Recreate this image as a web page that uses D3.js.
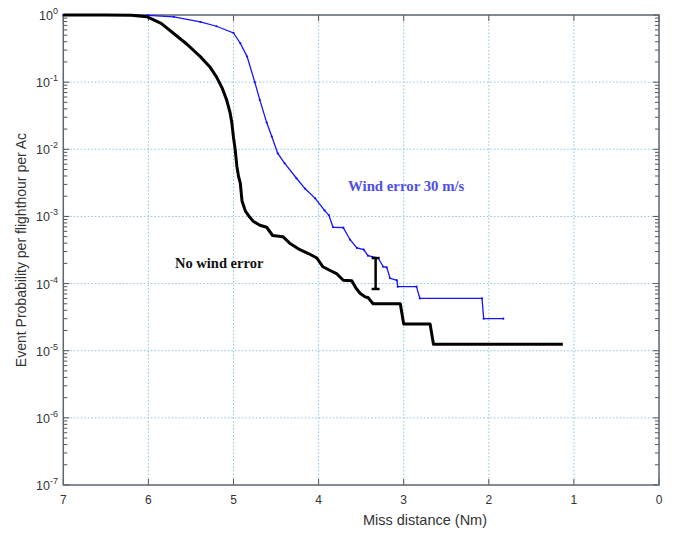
<!DOCTYPE html>
<html>
<head>
<meta charset="utf-8">
<script src="https://cdn.jsdelivr.net/npm/d3@7"></script>
<style>
  body { margin: 0; background: #fff; }
  svg { display: block; }
</style>
</head>
<body>
<svg id="chart" width="674" height="535"></svg>
<script>
// miss distance (Nm) and event probability
const noWindX = [7.0, 6.5, 6.2, 6.02, 5.85, 5.71, 5.55, 5.39, 5.28, 5.20, 5.13, 5.08, 5.04, 5.02, 5.0, 4.98, 4.96, 4.94, 4.92, 4.90, 4.86, 4.81, 4.77, 4.69, 4.61, 4.54, 4.42, 4.34, 4.22, 4.12, 4.02, 3.95, 3.87, 3.79, 3.71, 3.61, 3.56, 3.51, 3.45, 3.42, 3.36, 3.04, 3.0, 2.69, 2.65, 1.13];
const noWindP = [1.0, 1.0, 0.995, 0.945, 0.75, 0.54, 0.37, 0.24, 0.17, 0.12, 0.08, 0.054, 0.035, 0.025, 0.015, 0.0098, 0.0055, 0.0039, 0.0031, 0.0017, 0.0012, 0.00098, 0.00085, 0.00074, 0.00069, 0.00052, 0.0005, 0.0004, 0.00032, 0.00028, 0.00024, 0.000178, 0.000158, 0.000141, 0.000112, 0.00011, 0.000085, 0.000071, 0.000063, 0.000062, 0.00005, 0.00005, 0.000025, 0.000025, 0.0000125, 0.0000125];

const windX = [7.0, 6.5, 6.0, 5.7, 5.39, 5.2, 5.0, 4.92, 4.84, 4.75, 4.69, 4.61, 4.55, 4.48, 4.40, 4.26, 4.16, 4.04, 3.93, 3.88, 3.83, 3.71, 3.63, 3.55, 3.47, 3.42, 3.30, 3.24, 3.20, 3.16, 3.08, 3.07, 2.85, 2.81, 2.08, 2.06, 1.83];
const windP = [1.0, 1.0, 0.99, 0.94, 0.79, 0.68, 0.54, 0.38, 0.24, 0.1, 0.054, 0.025, 0.0155, 0.0087, 0.0062, 0.0037, 0.0026, 0.00186, 0.00123, 0.00105, 0.00069, 0.00068, 0.00045, 0.00034, 0.00032, 0.00026, 0.00024, 0.000178, 0.000174, 0.00012, 0.000112, 0.00009, 0.00009, 0.00006, 0.00006, 0.00003, 0.00003];

// error bar between the two curves
const barX = [3.33];
const barLow = [0.000083];
const barHigh = [0.00024];

const xTicks = [7, 6, 5, 4, 3, 2, 1, 0];
const yExponents = [0, -1, -2, -3, -4, -5, -6, -7];

const labelNoWind = "No wind error";
const labelWind = "Wind error 30 m/s";
const xTitle = "Miss distance (Nm)";
const yTitle = "Event Probability per flighthour per Ac";

const svg = d3.select("#chart");
const pl = 63.3, pr = 659, pt = 15, pb = 485;

const x = d3.scaleLinear().domain([7, 0]).range([pl, pr]);
const y = d3.scaleLog().domain([1e-7, 1]).range([pb, pt]);

// dotted grid
const grid = svg.append("g").attr("stroke", "#8fc3e3").attr("stroke-width", 1)
  .attr("stroke-dasharray", "1.5,2");
grid.selectAll("line.gx").data(xTicks.filter(d => d > 0 && d < 7)).enter().append("line")
  .attr("x1", d => x(d)).attr("x2", d => x(d)).attr("y1", pt).attr("y2", pb);
grid.selectAll("line.gy").data(yExponents.filter(d => d > -7 && d < 0)).enter().append("line")
  .attr("x1", pl).attr("x2", pr).attr("y1", d => y(Math.pow(10, d))).attr("y2", d => y(Math.pow(10, d)));

// minor log ticks on left and right, major ticks inward
const minor = [];
yExponents.slice(1).forEach(e => { for (let k = 2; k <= 9; k++) minor.push(k * Math.pow(10, e)); });
const ticks = svg.append("g").attr("stroke", "#555").attr("stroke-width", 1);
ticks.selectAll("line.ml").data(minor).enter().append("line")
  .attr("x1", pl).attr("x2", pl + 4).attr("y1", d => y(d)).attr("y2", d => y(d));
ticks.selectAll("line.mr").data(minor).enter().append("line")
  .attr("x1", pr).attr("x2", pr - 4).attr("y1", d => y(d)).attr("y2", d => y(d));
ticks.selectAll("line.Ml").data(yExponents).enter().append("line")
  .attr("x1", pl).attr("x2", pl + 6).attr("y1", d => y(Math.pow(10, d))).attr("y2", d => y(Math.pow(10, d)));
ticks.selectAll("line.Mr").data(yExponents).enter().append("line")
  .attr("x1", pr).attr("x2", pr - 6).attr("y1", d => y(Math.pow(10, d))).attr("y2", d => y(Math.pow(10, d)));
ticks.selectAll("line.Mb").data(xTicks).enter().append("line")
  .attr("x1", d => x(d)).attr("x2", d => x(d)).attr("y1", pb).attr("y2", pb - 6);
ticks.selectAll("line.Mt").data(xTicks).enter().append("line")
  .attr("x1", d => x(d)).attr("x2", d => x(d)).attr("y1", pt).attr("y2", pt + 6);

// frame
svg.append("rect").attr("x", pl).attr("y", pt).attr("width", pr - pl).attr("height", pb - pt)
  .attr("fill", "none").attr("stroke", "#5a6670").attr("stroke-width", 1.5);

// tick labels
svg.selectAll("text.xt").data(xTicks).enter().append("text")
  .attr("x", d => x(d)).attr("y", 504)
  .attr("text-anchor", "middle").attr("font-family", "Arial, 'Liberation Sans', sans-serif")
  .attr("font-size", 12).attr("fill", "#333").text(d => d);

const yt = svg.selectAll("text.yt").data(yExponents).enter().append("text")
  .attr("x", 58).attr("y", d => y(Math.pow(10, d)) + 5)
  .attr("text-anchor", "end").attr("font-family", "Arial, 'Liberation Sans', sans-serif")
  .attr("font-size", 12.5).attr("fill", "#333");
yt.append("tspan").text("10");
yt.append("tspan").attr("dy", -6).attr("font-size", 9).text(d => d);

// axis titles
svg.append("text").attr("x", 425).attr("y", 525).attr("text-anchor", "middle")
  .attr("font-family", "Arial, 'Liberation Sans', sans-serif").attr("font-size", 14.5).attr("fill", "#333")
  .text(xTitle);
svg.append("text").attr("transform", "translate(26,250) rotate(-90)").attr("text-anchor", "middle")
  .attr("font-family", "Arial, 'Liberation Sans', sans-serif").attr("font-size", 14).attr("fill", "#333")
  .text(yTitle);

// curves
const line = d3.line().x(d => x(d[0])).y(d => y(d[1]));
const windData = d3.zip(windX, windP);
const noWindData = d3.zip(noWindX, noWindP);

svg.append("path").datum(windData).attr("d", line)
  .attr("fill", "none").attr("stroke", "#1414ff").attr("stroke-width", 1.3);
svg.selectAll("circle.wm").data(windData).enter().append("circle")
  .attr("cx", d => x(d[0])).attr("cy", d => y(d[1])).attr("r", 1.1).attr("fill", "#1414ff");

svg.append("path").datum(noWindData).attr("d", line)
  .attr("fill", "none").attr("stroke", "#000").attr("stroke-width", 3).attr("stroke-linejoin", "round");

// error bar
const bar = svg.append("g").attr("stroke", "#000").attr("stroke-width", 2.5);
barX.forEach((bx, i) => {
  bar.append("line").attr("x1", x(bx)).attr("x2", x(bx)).attr("y1", y(barHigh[i])).attr("y2", y(barLow[i]));
  bar.append("line").attr("x1", x(bx) - 4).attr("x2", x(bx) + 4).attr("y1", y(barHigh[i])).attr("y2", y(barHigh[i]));
  bar.append("line").attr("x1", x(bx) - 4).attr("x2", x(bx) + 4).attr("y1", y(barLow[i])).attr("y2", y(barLow[i]));
});

// annotations
svg.append("text").attr("x", 175).attr("y", 268)
  .attr("font-family", "'Liberation Serif', 'Times New Roman', serif").attr("font-weight", "bold")
  .attr("font-size", 14.5).attr("fill", "#111").text(labelNoWind);
svg.append("text").attr("x", 348).attr("y", 191)
  .attr("font-family", "'Liberation Serif', 'Times New Roman', serif").attr("font-weight", "bold")
  .attr("font-size", 14.8).attr("fill", "#4f4fe8").text(labelWind);
</script>
</body>
</html>
